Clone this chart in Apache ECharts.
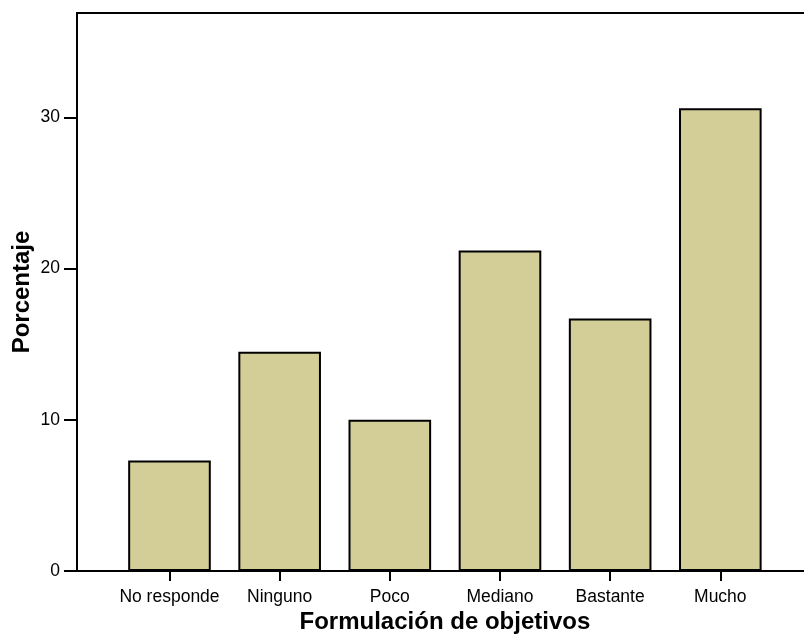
<!DOCTYPE html>
<html>
<head>
<meta charset="utf-8">
<script src="https://cdn.jsdelivr.net/npm/echarts@6/dist/echarts.min.js"></script>
<style>
  html, body { margin: 0; padding: 0; background: #fff; }
  #chart { width: 804px; height: 639px; }
</style>
</head>
<body>
<div id="chart"></div>
<script>
const categories = ["No responde", "Ninguno", "Poco", "Mediano", "Bastante", "Mucho"];
const porcentaje = [7.3, 14.5, 10.0, 21.2, 16.7, 30.6];
const yTicks = [0, 10, 20, 30];

const font = "Liberation Sans, Arial, sans-serif";
const chart = echarts.init(document.getElementById("chart"));

chart.setOption({
  animation: false,
  backgroundColor: "#fff",
  grid: [
    // frame + y axis
    { left: 77, top: 13, bottom: 68, right: -10, outerBoundsMode: "none", containLabel: false,
      show: true, borderColor: "#000", borderWidth: 2, backgroundColor: "transparent" },
    // bars
    { left: 114.4, width: 661, top: 13, bottom: 68, outerBoundsMode: "none", containLabel: false }
  ],
  xAxis: [
    { gridIndex: 0, type: "value", show: false },
    {
      gridIndex: 1,
      type: "category",
      data: categories,
      axisLine: { show: false },
      axisTick: { show: true, alignWithLabel: true, interval: 0, length: 10, lineStyle: { color: "#000", width: 2 } },
      axisLabel: { color: "#000", fontFamily: font, fontSize: 17.5, margin: 17, interval: 0 },
      name: "Formulación de objetivos",
      nameLocation: "middle",
      nameGap: 39,
      nameMoveOverlap: false,
      nameTextStyle: { color: "#000", fontFamily: font, fontSize: 24, fontWeight: "bold" }
    }
  ],
  yAxis: [
    {
      gridIndex: 0,
      type: "value",
      min: 0,
      max: 36.9,
      splitLine: { show: false },
      axisLine: { show: true, lineStyle: { color: "#000", width: 2 } },
      axisTick: { show: true, length: 13, customValues: yTicks, lineStyle: { color: "#000", width: 2 } },
      axisLabel: { color: "#000", fontFamily: font, fontSize: 17.5, margin: 17, customValues: yTicks },
      name: "Porcentaje",
      nameLocation: "middle",
      nameGap: 43,
      nameMoveOverlap: false,
      nameTextStyle: { color: "#000", fontFamily: font, fontSize: 24, fontWeight: "bold" }
    },
    { gridIndex: 1, type: "value", min: 0, max: 36.9, show: false }
  ],
  series: [
    {
      type: "bar",
      xAxisIndex: 1,
      yAxisIndex: 1,
      data: porcentaje,
      barCategoryGap: "25%",
      itemStyle: { color: "#d3ce97", borderColor: "#000", borderWidth: 2 }
    }
  ]
});
</script>
</body>
</html>
